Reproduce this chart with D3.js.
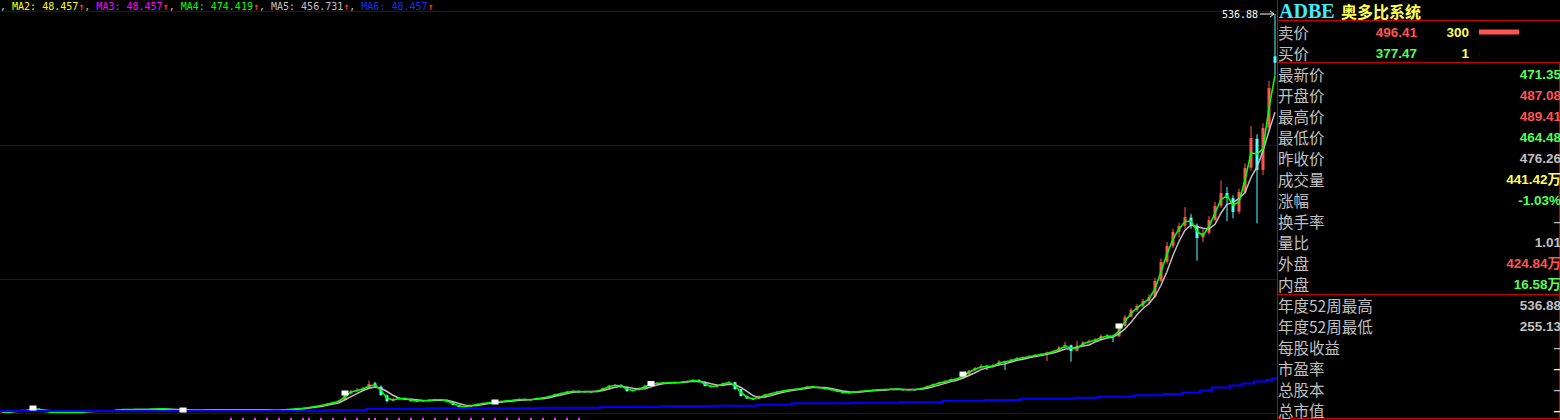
<!DOCTYPE html>
<html><head><meta charset="utf-8">
<script src="https://cdn.jsdelivr.net/npm/d3@7"></script>
<style>
html,body{margin:0;padding:0;background:#000;overflow:hidden;}
svg{display:block;}
text{white-space:pre;}
</style></head><body>
<svg id="c" width="1560" height="420"></svg>
<script>
// ---- DATA ----
// candles: [open, high, low, close]
const candles = [
[1.0,1.7,0.8,1.3],[1.5,1.8,1.1,1.3],[2.6,3.9,2.4,3.4],[3.7,4.0,3.1,3.4],[3.3,4.6,3.1,4.0],
[4.3,7.3,4.1,6.7],[5.9,6.2,3.1,3.4],[2.9,3.1,1.0,1.2],[1.0,1.5,0.8,1.2],[1.3,1.5,0.9,1.2],
[1.1,1.4,0.9,1.2],[1.3,1.5,1.0,1.2],[1.1,1.4,0.9,1.2],[1.4,1.6,1.0,1.2],[2.2,3.0,2.0,2.7],
[2.9,3.1,2.4,2.7],[2.5,3.0,2.3,2.7],[2.8,3.1,2.5,2.7],[2.4,2.9,2.2,2.7],[4.1,5.1,3.9,4.7],
[4.9,5.2,4.4,4.7],[4.4,5.0,4.2,4.7],[5.0,5.3,4.5,4.7],[4.5,5.0,4.3,4.7],[4.9,5.2,4.5,4.7],
[5.0,5.9,4.8,5.5],[5.8,6.1,5.3,5.5],[5.3,5.8,5.1,5.5],[5.3,5.5,3.8,4.0],[3.9,4.1,3.2,3.4],
[3.5,4.4,3.3,4.0],[4.1,4.3,3.6,3.8],[3.6,4.0,3.4,3.8],[4.0,4.2,3.6,3.8],[3.8,4.3,3.6,4.0],
[4.2,4.4,3.8,4.0],[3.9,4.2,3.7,4.0],[4.1,4.3,3.8,4.0],[4.0,5.2,3.9,4.5],[4.6,4.8,4.0,4.2],
[4.1,4.4,3.9,4.2],[4.3,4.5,4.0,4.2],[4.0,4.4,3.9,4.2],[4.4,4.6,4.0,4.2],[4.1,4.4,3.9,4.2],
[3.8,4.0,2.2,2.5],[2.8,4.3,2.6,4.0],[4.0,5.0,3.8,4.7],[4.6,5.7,4.4,5.4],[5.3,6.4,5.1,6.1],
[6.0,7.1,5.7,6.7],[6.8,8.6,6.5,8.1],[8.0,9.9,7.7,9.4],[9.3,11.4,9.0,10.8],[11.0,13.5,10.6,12.8],
[12.6,15.5,12.2,14.8],[15.0,18.0,14.5,16.8],[17.5,28.0,17.0,26.9],[26.0,31.0,25.0,29.6],[30.5,34.0,28.0,30.9],
[30.5,35.5,29.5,33.6],[34.0,43.5,33.0,39.0],[40.0,42.0,34.0,36.3],[35.5,37.0,23.0,24.2],[23.5,25.0,14.5,16.1],
[16.5,20.5,15.5,18.8],[18.5,21.5,17.5,20.2],[20.0,21.0,17.5,18.8],[18.5,19.5,15.0,16.1],[16.5,17.5,15.0,16.1],
[15.8,18.0,15.2,16.8],[16.7,18.8,16.0,17.5],[17.3,19.2,16.8,18.2],[18.4,19.0,16.8,17.5],[17.3,17.8,14.2,14.8],
[14.5,15.0,10.2,10.8],[10.5,11.0,7.6,8.1],[8.0,9.6,7.5,8.7],[8.8,11.5,8.4,10.8],[10.6,12.8,10.2,12.1],
[12.2,14.3,11.8,13.5],[13.8,14.8,13.0,14.1],[13.9,15.5,13.5,14.8],[14.6,16.8,14.2,16.1],[16.3,17.5,15.6,16.8],
[16.6,18.4,16.2,17.5],[17.6,19.6,17.2,18.8],[18.9,19.4,17.0,17.5],[17.4,19.0,17.0,18.2],[18.0,21.0,17.6,20.2],
[20.4,21.8,19.8,20.9],[20.7,23.6,20.3,22.9],[22.8,26.4,22.4,25.6],[25.8,27.6,25.0,26.9],[26.6,29.8,26.2,28.9],
[29.2,31.0,28.0,29.6],[29.8,30.4,27.0,28.3],[28.2,29.8,27.6,28.9],[29.0,29.6,27.4,28.3],[28.1,31.0,27.8,30.3],
[30.5,34.6,30.0,33.6],[33.4,38.0,33.0,37.0],[37.2,39.0,36.0,37.7],[37.9,38.4,34.2,35.0],[35.0,35.5,28.4,29.6],
[29.4,31.8,28.8,30.9],[30.6,34.4,30.2,33.6],[33.5,37.8,33.0,37.0],[37.0,40.6,36.5,39.7],[39.5,41.4,38.8,40.4],
[40.8,41.6,39.6,40.4],[40.2,42.0,39.8,41.0],[41.4,42.2,40.2,41.0],[40.8,42.6,40.2,41.7],[41.5,44.0,41.0,43.1],
[43.0,46.0,42.6,44.4],[44.6,45.2,41.0,41.7],[41.8,42.2,35.6,36.3],[36.4,37.4,34.2,35.0],[34.8,38.6,34.4,37.7],
[37.6,41.2,37.0,40.4],[40.6,43.0,40.0,41.7],[41.5,42.0,31.0,32.3],[32.0,32.6,22.0,22.9],[22.6,23.4,18.8,19.5],
[19.6,20.4,17.6,18.8],[18.8,23.6,18.4,22.9],[22.7,25.8,22.2,24.9],[25.0,27.6,24.6,26.9],[27.0,29.6,26.6,28.9],
[29.0,31.0,28.4,30.3],[30.2,32.4,29.8,31.6],[31.8,33.0,31.0,32.3],[32.2,34.4,31.8,33.6],[33.5,36.6,33.0,35.7],
[35.9,36.4,34.4,35.0],[35.0,35.4,33.0,33.6],[33.8,34.2,31.6,32.3],[32.4,32.8,30.2,30.9],[31.0,31.4,28.2,28.9],
[29.0,29.4,25.8,26.9],[26.8,28.4,26.2,27.6],[27.5,29.6,27.0,28.9],[28.8,30.4,28.4,29.6],[29.8,30.8,29.0,30.3],
[30.1,31.6,29.8,30.9],[31.0,32.2,30.4,31.6],[31.8,32.4,31.0,31.6],[31.5,33.0,31.0,32.3],[32.5,33.0,31.6,32.3],
[32.2,32.6,30.2,30.9],[30.8,32.4,30.4,31.6],[31.8,32.4,31.0,31.6],[31.5,34.4,31.2,33.6],[33.6,37.0,33.2,36.3],
[36.2,39.8,35.8,39.0],[39.2,41.8,38.6,41.0],[41.0,44.0,40.4,43.1],[43.2,46.6,42.6,45.8],[46.0,47.4,45.0,46.4],
[46.5,54.0,46.0,52.4],[52.0,58.4,51.5,57.2],[57.4,61.8,56.6,60.6],[60.4,66.0,59.6,63.2],[63.6,64.4,57.8,61.9],
[62.0,66.6,61.2,64.6],[64.8,71.0,64.0,69.3],[69.5,70.4,57.8,68.6],[68.4,73.4,67.6,72.0],[72.2,75.6,71.4,74.0],
[74.2,76.2,73.0,74.7],[74.6,78.0,74.0,76.7],[76.9,79.4,76.0,78.0],[78.2,80.8,77.4,79.4],[79.6,82.6,70.0,81.4],
[81.6,84.6,80.6,83.4],[83.6,90.0,83.0,88.1],[88.4,96.0,87.6,91.5],[91.0,92.0,69.0,83.4],[83.6,97.0,82.8,90.8],
[91.0,96.8,90.0,94.9],[95.2,98.6,94.0,96.9],[97.0,101.0,96.0,98.9],[99.0,106.0,98.4,103.6],[103.8,106.0,101.0,103.6],
[104.0,105.5,95.5,102.9],[103.0,120.0,102.4,117.1],[117.4,132.0,116.6,129.2],[129.4,141.0,128.6,138.6],[138.8,147.0,136.0,144.0],
[144.2,154.0,142.0,150.7],[151.0,160.0,145.0,156.1],[156.5,182.0,155.0,177.6],[178.0,208.0,176.0,203.2],[203.5,230.0,201.0,224.7],
[225.0,248.0,222.0,243.6],[244.0,256.0,236.0,251.7],[252.0,277.0,248.0,263.7],[263.0,268.0,248.0,253.0],[252.0,255.0,204.9,235.5],
[236.0,248.0,230.0,242.2],[242.5,265.0,240.0,259.7],[260.0,284.0,258.0,278.5],[279.0,313.0,276.0,296.0],[296.0,304.0,258.0,289.3],
[289.0,293.0,262.0,270.5],[271.0,302.0,268.0,297.4],[297.0,336.0,295.0,329.7],[330.0,386.0,326.0,370.0],[369.0,375.0,255.13,327.0],
[327.0,390.0,320.0,383.5],[384.0,447.0,380.0,437.3],[480.0,536.88,455.0,471.35]
];
// long moving average (MA6) as runs: [value, number of candles]
const ma6Runs = [[2.7,54],[4.0,7],[5.4,10],[6.3,19],[7.1,10],[8.1,10],[9.0,9],[9.8,7],[11.2,6],[13.1,10],
[13.7,8],[14.4,7],[16.1,7],[17.5,6],[19.2,9],[20.6,4],[21.9,6],[23.8,5],[25.6,3],[27.6,3],[30.3,2],
[34.3,3],[37.0,2],[39.7,2],[42.4,2],[44.4,1],[46.7,1]];
const markerIdx = [5, 30, 57, 82, 108, 160, 186];
const eventIdx = [38,40,42,44,46,48,50,51,53,55,57,59,61,62,64,66,68,70,72,74,76,78,80,82,84,86,88,90,92,94,96];
const maLegend = [
  {name:"MA2", value:"48.457", color:"#ffff00"},
  {name:"MA3", value:"48.457", color:"#ff00ff"},
  {name:"MA4", value:"474.419", color:"#00ff00"},
  {name:"MA5", value:"456.731", color:"#c0c0c0"},
  {name:"MA6", value:"48.457", color:"#1030ff"}
];
const ticker = "ADBE";
const companyName = "奥多比系统";
const quoteRows = [
  {label:"卖价", price:"496.41", vol:300, color:"#ff5454"},
  {label:"买价", price:"377.47", vol:1, color:"#54ff54"}
];
const statRows1 = [
  ["最新价","471.35","g"],["开盘价","487.08","r"],["最高价","489.41","r"],["最低价","464.48","g"],
  ["昨收价","476.26","w"],["成交量","441.42万","y"],["涨幅","-1.03%","g"],["换手率","–","w"],
  ["量比","1.01","w"],["外盘","424.84万","r"],["内盘","16.58万","g"]
];
const statRows2 = [
  ["年度52周最高","536.88","w"],["年度52周最低","255.13","w"],["每股收益","–","w"],
  ["市盈率","–","y"],["总股本","–","w"],["总市值","–","y"]
];

// ---- DRAW ----
const W = 1560, H = 420, panelX = 1277.5;
const svg = d3.select("#c");
svg.append("rect").attr("width", W).attr("height", H).attr("fill", "#000");

const C = {r:"#ff5454", g:"#54ff54", w:"#c0c0c0", y:"#ffff54", cyan:"#54ffff"};

// grid lines
const gridTop = 11.5, gridStep = 134;
svg.append("g").selectAll("line").data(d3.range(4)).join("line")
  .attr("x1", 0).attr("x2", panelX).attr("y1", k => gridTop + k*gridStep).attr("y2", k => gridTop + k*gridStep)
  .attr("stroke", "#5a0000").attr("stroke-width", 1);

const x = d3.scaleBand().domain(d3.range(candles.length)).range([0, 1278]).padding(0);
const maxHigh = d3.max(candles, d => d[1]);
const y = d3.scaleLinear().domain([0, maxHigh]).range([413, 14]);
const bw = x.bandwidth();
const cx = i => x(i) + bw/2;

// candles
const cg = svg.append("g");
candles.forEach((d, i) => {
  const [o, h, l, c] = d;
  const up = c >= o;
  const col = up ? C.r : C.cyan;
  cg.append("line").attr("x1", cx(i)).attr("x2", cx(i)).attr("y1", y(h)).attr("y2", y(l))
    .attr("stroke", col).attr("stroke-width", 1);
  const top = y(Math.max(o, c)), bot = y(Math.min(o, c));
  cg.append("rect").attr("x", cx(i) - 1.5).attr("y", top).attr("width", 3)
    .attr("height", Math.max(1, bot - top)).attr("fill", col);
});

// moving averages computed from closes
const closes = candles.map(d => d[3]);
const sma = n => closes.map((_, i) => d3.mean(closes.slice(Math.max(0, i - n + 1), i + 1)));
const maGray = sma(4), maGreen = sma(2);
const lineGen = d3.line().x((d, i) => cx(i)).y(d => y(d));
svg.append("path").attr("d", lineGen(maGray)).attr("fill", "none").attr("stroke", "#c0c0c0").attr("stroke-width", 1.5);
svg.append("path").attr("d", lineGen(maGreen)).attr("fill", "none").attr("stroke", "#00ff00").attr("stroke-width", 1.6);

// long MA (blue), step line
const ma6 = [];
ma6Runs.forEach(([v, n]) => { for (let k = 0; k < n; k++) ma6.push(v); });
const bluePts = ma6.map((v, i) => [x(i), y(v)]);
bluePts.push([x.range()[1], y(ma6[ma6.length - 1])]);
svg.append("path").attr("d", d3.line().curve(d3.curveStepAfter)(bluePts))
  .attr("fill", "none").attr("stroke", "#0000ff").attr("stroke-width", 2);

// markers
svg.append("g").selectAll("rect").data(markerIdx).join("rect")
  .attr("x", i => cx(i) - 3.5).attr("y", i => y(closes[i]) - 2.5).attr("width", 7).attr("height", 5)
  .attr("fill", "#ffffff");
svg.append("g").selectAll("rect").data(eventIdx).join("rect")
  .attr("x", i => cx(i) - 1).attr("y", 418).attr("width", 2).attr("height", 2)
  .attr("fill", "#e040e0");

// max label
const maxIdx = d3.maxIndex(candles, d => d[1]);
svg.append("text").attr("x", 1222).attr("y", y(maxHigh) + 4)
  .attr("font-family", "DejaVu Sans Mono, monospace").attr("font-size", 10).attr("fill", "#ffffff")
  .text(d3.format(".2f")(maxHigh));
const ay = y(maxHigh);
svg.append("path").attr("d", `M1260,${ay}H${cx(maxIdx) - 1}M${cx(maxIdx) - 5},${ay - 3}L${cx(maxIdx) - 1},${ay}L${cx(maxIdx) - 5},${ay + 3}`)
  .attr("stroke", "#ffffff").attr("fill", "none").attr("stroke-width", 1);

// top MA legend
const leg = svg.append("text").attr("x", 0).attr("y", 10)
  .attr("font-family", "DejaVu Sans Mono, monospace").attr("font-size", 10);
leg.append("tspan").attr("fill", "#c0c0c0").text(", ");
maLegend.forEach((m, k) => {
  leg.append("tspan").attr("fill", m.color).text(`${m.name}: ${m.value}`);
  leg.append("tspan").attr("fill", "#ff3030").attr("font-weight", "bold").text("↑");
  if (k < maLegend.length - 1) leg.append("tspan").attr("fill", "#c0c0c0").text(", ");
});

// ---- right panel ----
const P = svg.append("g");
P.append("rect").attr("x", panelX).attr("y", 0).attr("width", W - panelX).attr("height", H).attr("fill", "#000");
const red = "#c80000";
P.append("line").attr("x1", panelX).attr("x2", panelX).attr("y1", 0).attr("y2", 419).attr("stroke", red);
[20.5, 62.5, 294.5, 418.5].forEach(yy =>
  P.append("line").attr("x1", panelX).attr("x2", W).attr("y1", yy).attr("y2", yy).attr("stroke", red));
P.append("line").attr("x1", 1559.5).attr("x2", 1559.5).attr("y1", 62.5).attr("y2", 418.5).attr("stroke", red);

P.append("text").attr("x", 1279).attr("y", 17.5).attr("font-family", "Liberation Serif, serif")
  .attr("font-weight", "bold").attr("font-size", 20).attr("fill", "#40ecff").text(ticker);
P.append("text").attr("x", 1341).attr("y", 17.5).attr("font-family", "Noto Sans CJK SC, sans-serif")
  .attr("font-weight", "bold").attr("font-size", 16).attr("fill", "#ffff54").text(companyName);

const rowY = k => 32 + 21 * k;
const labelFont = "Noto Sans CJK SC, sans-serif";
const valFont = "Liberation Sans, Arial, Noto Sans CJK SC, sans-serif";
function label(k, t) {
  P.append("text").attr("x", 1278).attr("y", rowY(k)).attr("dominant-baseline", "central")
    .attr("font-family", labelFont).attr("font-size", 15.5).attr("fill", "#c0c0c0").text(t);
}
function value(k, t, col, xr) {
  P.append("text").attr("x", xr).attr("y", rowY(k) + 5).attr("text-anchor", "end")
    .attr("font-family", valFont).attr("font-weight", "bold").attr("font-size", 13.5).attr("fill", col).text(t);
}
const barScale = d3.scaleLinear().domain([0, d3.max(quoteRows, d => d.vol)]).range([0, 40]);
quoteRows.forEach((q, k) => {
  label(k, q.label);
  value(k, q.price, q.color, 1417);
  value(k, String(q.vol), C.y, 1469);
  P.append("rect").attr("x", 1479).attr("y", rowY(k) - 2.5).attr("width", barScale(q.vol)).attr("height", 5).attr("fill", "#ff5454");
});
statRows1.forEach((r, j) => { label(j + 2, r[0]); value(j + 2, r[1], C[r[2]], 1561); });
statRows2.forEach((r, j) => { label(j + 13, r[0]); value(j + 13, r[1], C[r[2]], 1561); });
</script>
</body></html>
